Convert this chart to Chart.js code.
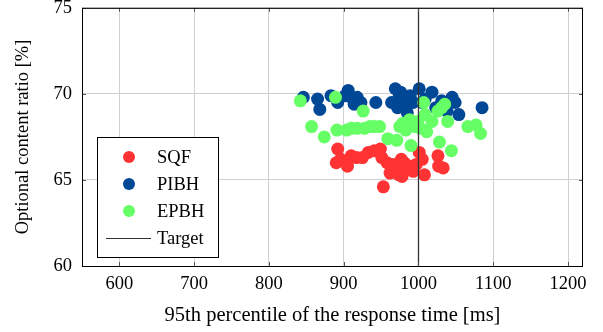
<!DOCTYPE html>
<html>
<head>
<meta charset="utf-8">
<script src="https://cdn.jsdelivr.net/npm/chart.js@4/dist/chart.umd.min.js"></script>
<style>
  html, body { margin: 0; padding: 0; background: #fff; }
  #wrap { width: 603px; height: 332px; }
</style>
</head>
<body>
<div id="wrap"><canvas id="chart"></canvas></div>
<script>
// 95th percentile response time [ms] and optional content ratio [%]
const sqfX = [890, 892, 896, 905, 910, 917, 925, 933, 941, 949, 951, 953, 958, 966, 970, 974, 977, 981, 985, 989, 993, 997, 1001, 1005, 1008, 1026, 1027, 1033, 978, 962];
const sqfY = [66.0, 66.8, 66.2, 65.8, 66.4, 66.3, 66.3, 66.6, 66.7, 66.8, 66.3, 64.6, 66.0, 65.9, 65.7, 65.3, 66.2, 66.0, 65.6, 65.8, 65.5, 65.9, 66.6, 66.2, 65.3, 66.4, 65.8, 65.7, 65.2, 65.4];
const pibhX = [846, 865, 868, 883, 892, 902, 906, 910, 914, 918, 923, 943, 969, 974, 976, 980, 983, 989, 993, 1001, 1009, 1018, 1045, 1049, 1054, 1085, 1023, 1031, 972, 964, 985, 1005, 1038];
const pibhY = [69.8, 69.7, 69.1, 69.9, 69.5, 69.9, 70.2, 69.8, 69.4, 69.8, 69.5, 69.5, 70.3, 69.8, 70.1, 69.7, 69.2, 69.9, 69.5, 70.3, 69.7, 70.1, 69.8, 69.5, 68.8, 69.2, 69.2, 69.6, 69.2, 69.5, 68.9, 69.5, 69.0];
const epbhX = [842, 857, 874, 889, 891, 904, 910, 918, 928, 935, 941, 948, 926, 959, 975, 979, 983, 990, 995, 999, 1003, 1007, 1011, 1018, 1026, 1031, 1039, 1044, 1066, 1077, 1083, 1028, 971, 1035, 1009, 988];
const epbhY = [69.6, 68.1, 67.5, 69.8, 67.9, 67.9, 68.0, 68.0, 68.0, 68.1, 68.1, 68.1, 69.0, 67.4, 68.1, 68.3, 67.9, 67.0, 68.1, 68.4, 68.0, 69.5, 67.8, 68.4, 69.0, 69.2, 68.4, 66.7, 68.1, 68.2, 67.7, 67.2, 67.3, 69.4, 68.8, 68.5];
const targetX = 1000;
const xTicks = [600, 700, 800, 900, 1000, 1100, 1200];
const yTicks = [60, 65, 70, 75];

const toPoints = (xs, ys) => xs.map((x, i) => ({x: x, y: ys[i]}));
const FONT = '"Liberation Serif", "DejaVu Serif", serif';

// pgfplots-style inner tick marks
const tickMarks = {
	id: 'tickMarks',
	afterDatasetsDraw(chart) {
		const {ctx, chartArea: a, scales: {x, y}} = chart;
		ctx.save();
		ctx.strokeStyle = '#555';
		ctx.lineWidth = 1;
		ctx.beginPath();
		xTicks.forEach(v => {
			const px = Math.round(x.getPixelForValue(v)) + 0.5;
			ctx.moveTo(px, a.bottom); ctx.lineTo(px, a.bottom - 4);
			ctx.moveTo(px, a.top); ctx.lineTo(px, a.top + 4);
		});
		yTicks.forEach(v => {
			const py = Math.round(y.getPixelForValue(v)) + 0.5;
			ctx.moveTo(a.left, py); ctx.lineTo(a.left + 4, py);
			ctx.moveTo(a.right, py); ctx.lineTo(a.right - 4, py);
		});
		ctx.stroke();
		ctx.strokeStyle = '#000';
		ctx.strokeRect(a.left + 0.5, a.top + 0.5, a.right - a.left - 1, a.bottom - a.top);
		ctx.restore();
	}
};

// legend box in the lower left, like the pgfplots one
const boxLegend = {
	id: 'boxLegend',
	afterDraw(chart) {
		const {ctx} = chart;
		const bx = 97, by = 137, bw = 121, bh = 120;
		ctx.save();
		ctx.fillStyle = '#fff';
		ctx.fillRect(bx, by, bw, bh);
		ctx.strokeStyle = '#000';
		ctx.lineWidth = 1;
		ctx.strokeRect(bx + 0.5, by + 0.5, bw, bh);
		ctx.font = '18.5px ' + FONT;
		ctx.textBaseline = 'middle';
		ctx.textAlign = 'left';
		chart.data.datasets.forEach((ds, i) => {
			const cy = 157 + i * 27;
			if (ds.showLine) {
				ctx.strokeStyle = ds.borderColor;
				ctx.beginPath();
				ctx.moveTo(106, cy + 0.5); ctx.lineTo(151, cy + 0.5);
				ctx.stroke();
			} else {
				ctx.fillStyle = ds.backgroundColor;
				ctx.beginPath();
				ctx.arc(129, cy, 6, 0, Math.PI * 2);
				ctx.fill();
			}
			ctx.fillStyle = '#000';
			ctx.fillText(ds.label, 157, cy + 1);
		});
		ctx.restore();
	}
};

const ctx = document.getElementById('chart').getContext('2d');
new Chart(ctx, {
	type: 'scatter',
	data: {
		datasets: [
			{label: 'SQF', data: toPoints(sqfX, sqfY), backgroundColor: 'rgb(255, 51, 51)', borderWidth: 0, pointRadius: 6.5, order: 3},
			{label: 'PIBH', data: toPoints(pibhX, pibhY), backgroundColor: 'rgb(0, 72, 150)', borderWidth: 0, pointRadius: 6.5, order: 2},
			{label: 'EPBH', data: toPoints(epbhX, epbhY), backgroundColor: 'rgb(102, 255, 102)', borderWidth: 0, pointRadius: 6.5, order: 1},
			{label: 'Target', data: [{x: targetX, y: yTicks[0]}, {x: targetX, y: yTicks[yTicks.length - 1]}], showLine: true, borderColor: '#333', borderWidth: 1.3, pointRadius: 0, backgroundColor: '#333', order: 0}
		]
	},
	options: {
		responsive: true,
		maintainAspectRatio: false,
		animation: false,
		layout: {padding: {top: 0, right: 20, left: 12, bottom: 0}},
		plugins: {legend: {display: false}, tooltip: {enabled: false}},
		scales: {
			x: {
				type: 'linear', min: 550, max: 1220,
				afterBuildTicks: s => { s.ticks = xTicks.map(v => ({value: v})); },
				afterFit: s => { s.height = 66; },
				grid: {color: '#d0d0d0', drawTicks: false},
				border: {display: false},
				ticks: {color: '#000', font: {family: FONT, size: 18.5}, padding: 7, maxRotation: 0, callback: v => String(v)},
				title: {display: true, text: '95th percentile of the response time [ms]', color: '#000', font: {family: FONT, size: 20.5}, padding: {top: 2}}
			},
			y: {
				type: 'linear', min: 60, max: 75,
				afterBuildTicks: s => { s.ticks = yTicks.map(v => ({value: v})); },
				afterFit: s => { s.width = 70; },
				grid: {color: '#d0d0d0', drawTicks: true, tickLength: 10, tickColor: 'rgba(0,0,0,0)'},
				border: {display: false},
				ticks: {color: '#000', font: {family: FONT, size: 18.5, lineHeight: 0.85}, padding: 0, callback: v => String(v)},
				title: {display: true, text: 'Optional content ratio [%]', color: '#000', font: {family: FONT, size: 18.5}, padding: {top: 0, bottom: 0}}
			}
		}
	},
	plugins: [tickMarks, boxLegend]
});
</script>
</body>
</html>
